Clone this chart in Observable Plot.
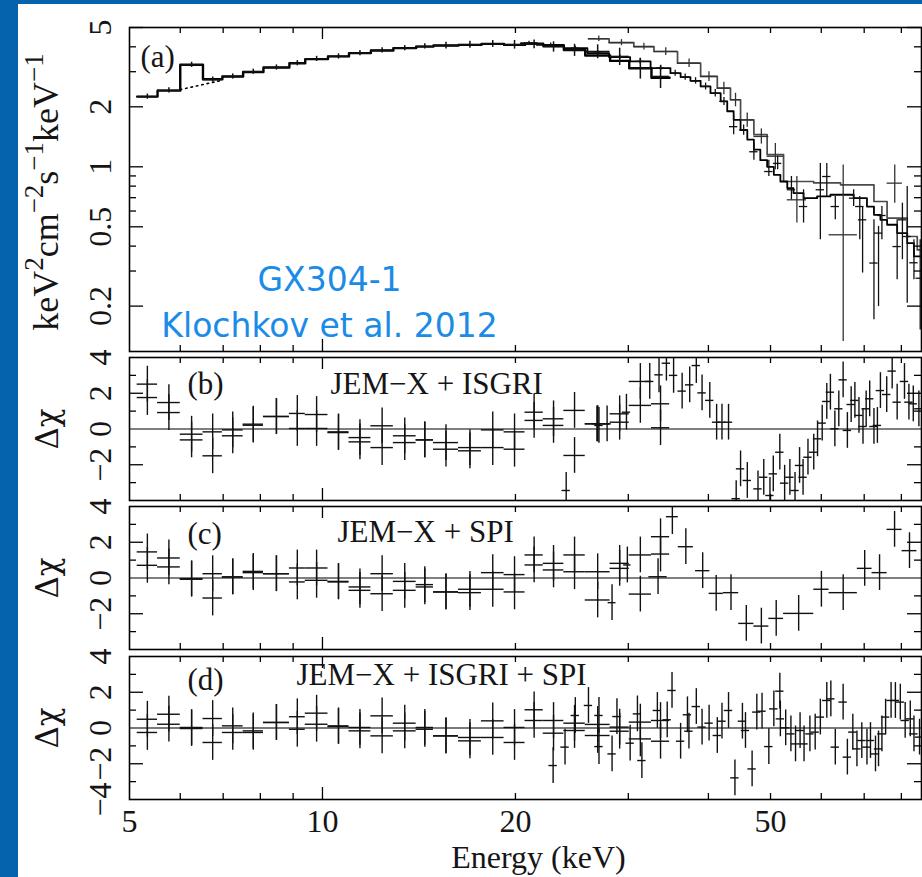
<!DOCTYPE html>
<html><head><meta charset="utf-8">
<script src="https://cdn.jsdelivr.net/npm/d3@7"></script>
<script src="https://cdn.jsdelivr.net/npm/@observablehq/plot@0.6"></script>
<style>
html,body{margin:0;padding:0;background:#0563ae;}
#page{position:relative;width:922px;height:877px;overflow:hidden;}
#paper{position:absolute;left:18px;top:4px;right:0;bottom:0;background:#fff;}
#page svg{position:absolute;left:0;overflow:visible;}
</style></head>
<body><div id="page"><div id="paper"></div></div>
<script>
// ---------------- data ----------------
const xDomain = [5, 86.0];
const xMinorTicks = [6, 7, 8, 9, 20, 30, 40, 50, 60, 70, 80];
const xMajorTicks = [10];
const xTickLabels = [5, 10, 20, 50];

// panel (a) log flux axis
const fluxDomain = [0.1184, 5];
const fluxMajorTicks = [0.2, 0.5, 1, 2, 5];
const fluxMinorTicks = [0.3, 0.4, 0.6, 0.7, 0.8, 0.9, 3, 4];
const fluxTickLabels = [5, 2, 1, 0.5, 0.2];

// JEM-X binning and folded model (keV, keV^2 cm^-2 s^-1 keV^-1)
const jemxEdges = [5.14, 5.53, 6.0, 6.51, 6.98, 7.52, 8.09, 8.88, 9.4, 10.2, 11.0, 11.9, 12.9, 14.0, 14.9, 16.3, 17.7, 19.2, 20.7, 22.1, 23.8, 25.7, 28.1, 30.1, 32.6, 34.8];
const jemxModel = [2.25, 2.41, 3.25, 2.75, 2.84, 2.99, 3.15, 3.31, 3.47, 3.58, 3.72, 3.83, 3.94, 4.01, 4.06, 4.09, 4.14, 4.09, 4.15, 4.05, 3.85, 3.62, 3.40, 3.12, 2.80];
const jemxFlux  = [2.25, 2.42, 3.25, 2.74, 2.84, 3.00, 3.15, 3.31, 3.48, 3.58, 3.72, 3.84, 3.94, 4.02, 4.06, 4.10, 4.14, 4.10, 4.12, 4.00, 3.85, 3.79, 3.58, 3.13, 2.84];
const jemxRelErr = [0.03, 0.03, 0.03, 0.03, 0.03, 0.03, 0.03, 0.03, 0.03, 0.03, 0.03, 0.03, 0.03, 0.03, 0.04, 0.04, 0.04, 0.05, 0.05, 0.06, 0.07, 0.08, 0.10, 0.12, 0.13];
// model without the 6.4 keV iron line (dotted)
const noLineE = [6.0, 6.95];
const noLineF = [2.44, 2.71];

// ISGRI binning and folded model
const isgriEdges = [20.4, 21.6, 23.8, 25.9, 28.0, 30.2, 32.5, 34.9, 36.2, 37.5, 38.9, 40.3, 41.8, 42.8, 43.8, 44.9, 46.0, 47.1, 48.2, 49.4, 50.6, 51.8, 53.1, 54.3, 56.3, 59.1, 62.0, 67.4, 70.7, 72.5, 74.2, 76.0, 78.8, 81.7, 83.7, 86.3];
const isgriModel = [4.17, 4.09, 3.94, 3.72, 3.55, 3.38, 3.13, 2.95, 2.82, 2.70, 2.53, 2.34, 2.13, 1.90, 1.72, 1.53, 1.37, 1.22, 1.08, 1.00, 0.912, 0.844, 0.782, 0.738, 0.696, 0.710, 0.724, 0.696, 0.632, 0.574, 0.542, 0.512, 0.465, 0.414, 0.355];
// ISGRI data: [E, flux, lower, upper]
const isgriPts = [[21.0,4.17,4.08,4.26],[22.7,4.09,4.0,4.18],[24.8,3.94,3.85,4.03],[26.9,3.72,3.63,3.81],[29.1,3.55,3.45,3.65],[31.3,3.38,3.28,3.48],[33.7,3.13,3.03,3.23],[35.5,2.95,2.85,3.05],[36.8,2.82,2.72,2.92],[38.2,2.70,2.6,2.8],[39.6,2.53,2.43,2.63],[41.0,2.34,2.24,2.44],[42.3,2.13,2.03,2.23],[43.8,1.59,1.45,1.79],[45.4,1.53,1.44,1.62],[47.1,1.19,1.08,1.31],[49.7,0.947,0.894,1.08],[51.3,1.04,0.966,1.13],[53.9,0.767,0.683,0.894],[56.3,0.632,0.522,0.767],[59.8,0.767,0.43,1.04],[61.2,0.894,0.71,1.04],[63.1,0.632,0.542,0.71],[67.4,0.696,0.632,0.767],[68.9,0.632,0.43,0.71],[69.6,0.542,0.293,0.632],[72.5,0.329,0.171,0.542],[73.7,0.465,0.199,0.502],[74.6,0.57,0.43,0.632],[78.8,0.398,0.271,0.542],[80.3,0.542,0.342,0.657],[81.7,0.447,0.207,0.797],[83.7,0.33,0.271,0.43],[85.6,0.276,0.152,0.43]];
const isgriHalfBin = 0.015;

// SPI binning and folded model
const spiEdges = [26.0, 28.0, 30.6, 32.9, 35.8, 38.9, 41.3, 43.3, 44.9, 47.1, 49.4, 52.4, 58.4, 64.3, 72.5, 76.0, 81.7, 84.7, 86.3];
const spiModel = [4.39, 4.20, 4.01, 3.79, 3.31, 2.84, 2.48, 2.17, 1.72, 1.45, 1.15, 0.844, 0.83, 0.812, 0.67, 0.553, 0.447, 0.383];
// SPI data: [Elo, Ehi, flux, lower, upper]
const spiPts = [[26.0,28.0,4.39,4.25,4.53],[28.0,30.6,4.20,4.05,4.35],[30.6,32.9,4.01,3.85,4.17],[32.9,35.8,3.79,3.62,3.96],[35.8,38.9,3.31,3.15,3.47],[38.9,41.3,2.84,2.68,3.0],[41.3,43.3,2.48,2.3,2.66],[43.3,44.9,2.17,2.0,2.34],[44.9,47.1,1.72,1.58,1.86],[47.1,49.7,1.42,1.3,1.55],[49.4,52.4,1.13,0.966,1.31],[53.1,56.9,0.683,0.522,0.894],[61.7,68.3,0.456,0.133,1.02],[76.0,80.3,0.828,0.657,1.02]];

// residual axes
const resDomain = [-4, 4];
const resMajorTicks = [-2, 2];
const resMinorTicks = [-3, -1, 1, 3];
const resLabelsBC = [4, 2, 0, -2];
const resLabelsD = [4, 2, 0, -2, -4];

// residuals (Δχ) of the two JEM-X units per JEM-X bin
const resB_jemx1 = [2.51, 1.48, -0.29, -0.16, -0.05, 0.21, 0.70, 0.87, 0.81, -0.16, -0.48, 0.18, -0.38, -0.61, -1.13, -1.04, -0.05, -0.16, 0.94, 0.57, 1.04, 0.29, 0.85, 2.66, 1.41];
const resB_jemx2 = [1.76, 0.92, -0.61, -1.50, -0.38, 0.27, 0.70, 0.03, 0.03, -0.20, -0.72, -1.04, -0.76, -0.61, -0.76, -1.22, -1.04, -1.13, 0.48, 0.20, -1.48, 0.29, 0.38, 1.32, 0.07];
const resC_jemx1 = [1.46, 1.12, -0.04, 0.24, 0.06, 0.37, 0.24, 0.56, 0.56, -0.19, -0.50, 0.24, -0.19, -0.37, -0.78, -0.63, 0.30, 0.19, 1.29, 0.82, 1.29, 0.35, 0.82, 1.29, 2.31];
const resC_jemx2 = [0.71, 0.62, -0.07, -1.12, 0.06, 0.30, 0.24, -0.22, -0.13, -0.22, -0.69, -0.88, -0.69, -0.50, -0.78, -0.82, -0.63, -0.78, 0.73, 0.45, 0.35, -1.23, 0.54, -0.90, 1.34];
const resD_jemx1 = [0.49, 0.77, 0.03, 0.53, 0.12, -0.16, 0.31, 0.63, 0.83, 0.12, 0.03, 0.68, 0.27, 0.03, -0.44, -0.53, 0.40, 0.03, 1.02, 0.42, 0.27, 0.20, 0.05, 0.33, 0.42];
const resD_jemx2 = [-0.25, 0.21, -0.03, -0.81, -0.25, -0.25, 0.31, -0.07, 0.21, 0.08, -0.16, -0.44, -0.16, -0.07, -0.44, -0.72, -0.53, -0.81, 0.42, -0.29, -0.14, -0.42, -0.18, -0.61, -0.74];
// ISGRI residuals in (b): [E, Δχ]
const resB_isgri = [[24.0,-3.44],[26.8,0.29],[27.0,0.2],[27.8,0.29],[29.8,0.94],[32.4,2.66],[33.5,3.03],[34.4,3.68],[35.3,3.0],[36.4,2.12],[37.4,2.47],[38.3,3.55],[39.1,2.02],[40.2,1.6],[41.2,0.38],[42.0,0.38],[43.0,0.38],[44.2,-3.9],[44.9,-2.23],[46.0,-2.88],[47.8,-3.35],[48.8,-2.7],[49.9,-3.72],[50.5,-2.51],[51.7,-1.3],[52.6,-3.03],[53.6,-2.7],[54.6,-3.44],[55.5,-2.04],[56.2,-2.7],[57.2,-1.58],[58.4,-1.3],[59.2,-0.55],[60.2,0.33],[61.2,1.54],[62.0,2.06],[63.0,0.01],[63.9,1.13],[64.9,2.75],[65.9,-0.08],[66.8,1.37],[67.7,1.6],[68.7,0.76],[69.7,0.14],[70.5,1.13],[71.4,1.69],[72.5,0.14],[73.4,0.2],[74.2,2.15],[75.9,1.93],[77.4,3.24],[78.8,1.5],[80.9,2.66],[82.2,1.5],[83.5,1.41],[85.2,1.13]];
// SPI residuals in (c): [Elo, Ehi, Δχ]
const resC_spi = [[27.9,28.7,-1.38],[29.5,30.3,0.73],[32.3,34.5,0.07],[34.4,35.9,3.43],[35.9,37.9,1.75],[38.2,40.2,0.41],[40.1,42.2,-0.86],[42.2,44.6,-0.82],[44.6,47.1,-2.54],[47.1,49.7,-2.69],[49.7,52.4,-2.26],[52.4,58.4,-1.98],[58.4,61.7,-0.63],[61.7,68.3,-0.82],[68.3,72.0,0.54],[72.0,76.0,0.30],[76.0,80.2,2.72],[80.2,84.6,1.53]];
// ISGRI + SPI residuals in (d): [E, Δχ]
const resD_hard = [[22.9,-2.1],[23.9,-1.07],[24.8,0.7],[26.0,1.26],[27.0,-1.04],[27.0,0.7],[28.3,-1.45],[28.8,0.64],[30.2,-0.85],[31.0,0.79],[31.5,-1.82],[33.3,0.98],[34.5,0.46],[35.1,2.1],[36.2,-0.74],[37.1,0.74],[37.3,-0.18],[38.3,1.2],[39.1,0.05],[40.1,0.27],[41.3,-0.42],[42.0,0.38],[43.0,0.98],[44.0,-2.79],[45.2,0.38],[45.7,-0.14],[46.8,-2.29],[47.6,0.89],[48.5,0.94],[49.7,-1.04],[50.6,1.07],[51.7,2.06],[51.8,0.51],[52.8,0.01],[53.8,-0.33],[54.7,-0.89],[55.6,-0.14],[56.4,-0.89],[57.6,-0.33],[58.7,-0.23],[59.8,0.61],[61.2,1.54],[62.1,1.63],[63.1,-1.07],[64.9,1.45],[65.9,-1.63],[67.2,-0.23],[68.2,-1.17],[69.4,-0.7],[70.7,-1.07],[71.6,-0.7],[72.9,-1.45],[73.7,-1.17],[74.6,-0.33],[75.6,0.61],[77.1,1.54],[78.3,1.54],[79.7,1.45],[81.1,0.42],[82.6,0.51],[83.7,-0.33],[85.4,-0.51]];

// ---------------- drawing ----------------
const FONT = "Liberation Serif, 'Times New Roman', serif";
const INK = "#151515";
const W = 922, ML = 129, MR = 1, PW = W - ML - MR;
const page = document.getElementById("page");
const fmtTick = d => d < 0 ? "\u2212" + Math.abs(d) : String(d);

function stepPts(edges, vals) {
  const p = vals.map((v, i) => ({x: edges[i], y: v}));
  p.push({x: edges[edges.length - 1], y: vals[vals.length - 1]});
  return p;
}
function ticksX(ph) {
  const o = {x: d => d, stroke: "#000", strokeWidth: 1.3};
  return [
    Plot.ruleX(xMinorTicks, {...o, insetBottom: ph - 6}),
    Plot.ruleX(xMinorTicks, {...o, insetTop: ph - 6}),
    Plot.ruleX(xMajorTicks, {...o, insetBottom: ph - 12}),
    Plot.ruleX(xMajorTicks, {...o, insetTop: ph - 12})
  ];
}
function ticksY(major, minor) {
  const o = {y: d => d, stroke: "#000", strokeWidth: 1.3};
  return [
    Plot.ruleY(minor, {...o, insetRight: PW - 7}),
    Plot.ruleY(minor, {...o, insetLeft: PW - 7}),
    Plot.ruleY(major, {...o, insetRight: PW - 14}),
    Plot.ruleY(major, {...o, insetLeft: PW - 14})
  ];
}
function yLabels(vals) {
  return Plot.text(vals, {y: d => d, text: fmtTick, frameAnchor: "left", dx: -29, rotate: -90,
    textAnchor: "middle", lineAnchor: "middle", fontFamily: FONT, fontSize: 32, fill: INK});
}
function label(txt, dx, dy, opts = {}) {
  return Plot.text([txt], {text: d => d, frameAnchor: "top-left", dx, dy, textAnchor: "start",
    lineAnchor: "middle", fontFamily: FONT, fontSize: 31, fill: INK, ...opts});
}
function place(svg, top) { svg.style.top = top + "px"; page.appendChild(svg); return svg; }

// ---- panel (a)
const jemxCross = jemxFlux.map((f, i) => ({x1: jemxEdges[i], x2: jemxEdges[i + 1], xc: Math.sqrt(jemxEdges[i] * jemxEdges[i + 1]), y: f, y1: f * (1 - jemxRelErr[i]), y2: f * (1 + jemxRelErr[i])}));
const isgriCross = isgriPts.map(d => ({x1: d[0] * (1 - isgriHalfBin), x2: d[0] * (1 + isgriHalfBin), xc: d[0], y: d[1], y1: d[2], y2: d[3]}));
const spiCross = spiPts.map(d => ({x1: d[0], x2: d[1], xc: Math.sqrt(d[0] * d[1]), y: d[2], y1: d[3], y2: d[4]}));
function crosses(data, stroke, sw) {
  return [
    Plot.ruleX(data, {x: "xc", y1: "y1", y2: "y2", stroke, strokeWidth: sw, clip: true}),
    Plot.ruleY(data, {y: "y", x1: "x1", x2: "x2", stroke, strokeWidth: sw, clip: true})
  ];
}
const hA = 354, mtA = 27, mbA = 3, phA = hA - mtA - mbA;
const svgA = Plot.plot({
  width: W, height: hA, marginLeft: ML, marginRight: MR, marginTop: mtA, marginBottom: mbA,
  style: {background: "transparent", overflow: "visible"},
  x: {type: "log", domain: xDomain, axis: null},
  y: {type: "log", domain: fluxDomain, axis: null},
  marks: [
    Plot.line(stepPts(spiEdges, spiModel), {x: "x", y: "y", curve: "step-after", stroke: "#4a4a4a", strokeWidth: 1.7, clip: true}),
    Plot.line(stepPts(isgriEdges, isgriModel), {x: "x", y: "y", curve: "step-after", stroke: "#000", strokeWidth: 1.8, clip: true}),
    Plot.line(stepPts(jemxEdges, jemxModel), {x: "x", y: "y", curve: "step-after", stroke: "#000", strokeWidth: 2.4, clip: true}),
    Plot.line(noLineE.map((e, i) => ({x: e, y: noLineF[i]})), {x: "x", y: "y", stroke: "#000", strokeWidth: 1.6, strokeDasharray: "1.5 4"}),
    ...crosses(spiCross, "#333", 1.3),
    ...crosses(isgriCross, "#111", 1.3),
    ...crosses(jemxCross, "#111", 1.5),
    ...ticksX(phA),
    ...ticksY(fluxMajorTicks, fluxMinorTicks),
    Plot.frame({stroke: "#000", strokeWidth: 1.6}),
    yLabels(fluxTickLabels),
    label("(a)", 11, 30),
    Plot.text(["GX304-1"], {text: d => d, frameAnchor: "top-left", dx: 200, dy: 253, textAnchor: "middle", lineAnchor: "middle", fontFamily: "DejaVu Sans", fontSize: 33, fill: "#1a8be6"}),
    Plot.text(["Klochkov et al. 2012"], {text: d => d, frameAnchor: "top-left", dx: 200, dy: 299, textAnchor: "middle", lineAnchor: "middle", fontFamily: "DejaVu Sans", fontSize: 33, fill: "#1a8be6"})
  ]
});
place(svgA, 0);
// y title with superscripts
{
  const t = d3.select(svgA).append("text")
    .attr("transform", "translate(58,192) rotate(-90)")
    .attr("text-anchor", "middle").attr("font-family", FONT).attr("font-size", 36).attr("fill", INK);
  const parts = [["keV", 0], ["2", 1], ["cm", 0], ["\u22122", 1], ["s", 0], ["\u22121", 1], ["keV", 0], ["\u22121", 1]];
  let prev = 0;
  for (const [s, sup] of parts) {
    const ts = t.append("tspan").text(s);
    if (sup !== prev) ts.attr("dy", sup ? -15 : 15);
    if (sup) ts.attr("font-size", 27);
    prev = sup;
  }
}

// ---- residual panels
function jemxRes(vals) {
  return vals.map((v, i) => ({x1: jemxEdges[i], x2: jemxEdges[i + 1], xc: Math.sqrt(jemxEdges[i] * jemxEdges[i + 1]), v}));
}
function resCrosses(items) {
  return [
    Plot.ruleX(items, {x: "xc", y1: d => d.v - 1, y2: d => d.v + 1, stroke: "#111", strokeWidth: 1.4, clip: true}),
    Plot.ruleY(items, {y: "v", x1: "x1", x2: "x2", stroke: "#111", strokeWidth: 1.4, clip: true})
  ];
}
function residualPanel({height, mt, mb, items, labels, tag, tagDy, title, titleDx, titleDy, zeroStroke, zeroWidth, extra = []}) {
  const ph = height - mt - mb;
  return Plot.plot({
    width: W, height, marginLeft: ML, marginRight: MR, marginTop: mt, marginBottom: mb,
    style: {background: "transparent", overflow: "visible"},
    x: {type: "log", domain: xDomain, axis: null},
    y: {domain: resDomain, axis: null},
    marks: [
      Plot.ruleY([0], {stroke: zeroStroke, strokeWidth: zeroWidth}),
      ...resCrosses(items),
      ...ticksX(ph),
      ...ticksY(resMajorTicks, resMinorTicks),
      Plot.frame({stroke: "#000", strokeWidth: 1.6}),
      yLabels(labels),
      Plot.text(["\u0394\u03c7"], {text: d => d, frameAnchor: "left", dx: -81, rotate: -90, textAnchor: "middle", lineAnchor: "middle", fontFamily: "DejaVu Serif, Liberation Serif, serif", fontSize: 31, fill: INK}),
      label(tag, 58, tagDy),
      label(title, titleDx, titleDy),
      ...extra
    ]
  });
}
const isgriItems = arr => arr.map(d => ({x1: d[0] * (1 - isgriHalfBin), x2: d[0] * (1 + isgriHalfBin), xc: d[0], v: d[1]}));

const svgB = residualPanel({
  height: 149, mt: 3, mb: 3,
  items: [...jemxRes(resB_jemx1), ...jemxRes(resB_jemx2), ...isgriItems(resB_isgri)],
  labels: resLabelsBC, tag: "(b)", tagDy: 27, title: "JEM\u2212X + ISGRI", titleDx: 201, titleDy: 27,
  zeroStroke: "#000", zeroWidth: 1.2
});
place(svgB, 354);

const svgC = residualPanel({
  height: 149, mt: 3, mb: 3,
  items: [...jemxRes(resC_jemx1), ...jemxRes(resC_jemx2), ...resC_spi.map(d => ({x1: d[0], x2: d[1], xc: Math.sqrt(d[0] * d[1]), v: d[2]}))],
  labels: resLabelsBC, tag: "(c)", tagDy: 28, title: "JEM\u2212X + SPI", titleDx: 208, titleDy: 26,
  zeroStroke: "#000", zeroWidth: 1.2
});
place(svgC, 503);

const svgD = residualPanel({
  height: 225, mt: 4, mb: 78,
  items: [...jemxRes(resD_jemx1), ...jemxRes(resD_jemx2), ...isgriItems(resD_hard)],
  labels: resLabelsD, tag: "(d)", tagDy: 24, title: "JEM\u2212X + ISGRI + SPI", titleDx: 167, titleDy: 19,
  zeroStroke: "#7a7a7a", zeroWidth: 2.2,
  extra: [
    Plot.text(xTickLabels, {x: d => d, text: d => String(d), frameAnchor: "bottom", dy: 22, textAnchor: "middle", lineAnchor: "middle", fontFamily: FONT, fontSize: 32, fill: INK}),
    Plot.text(["Energy (keV)"], {text: d => d, frameAnchor: "bottom-left", dx: 409, dy: 58, textAnchor: "middle", lineAnchor: "middle", fontFamily: FONT, fontSize: 32, fill: INK})
  ]
});
place(svgD, 652);
</script></body></html>
